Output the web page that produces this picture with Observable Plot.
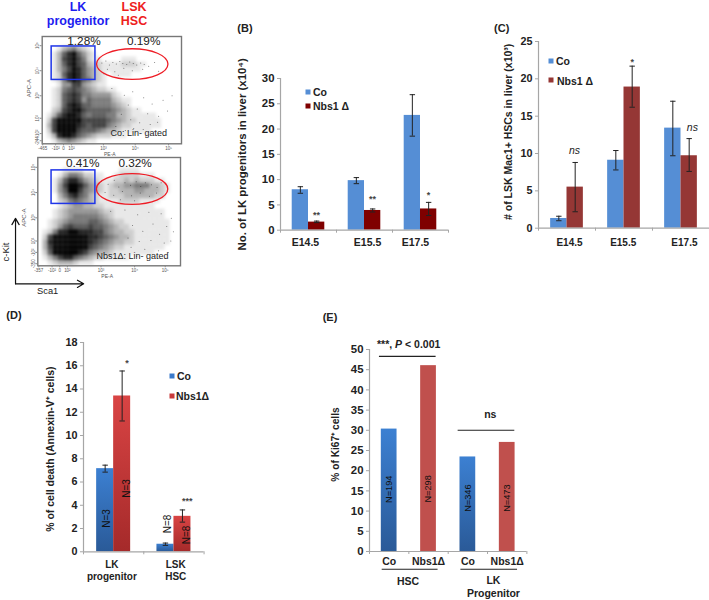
<!DOCTYPE html>
<html><head><meta charset="utf-8">
<script src="https://cdn.jsdelivr.net/npm/d3@7"></script>
<script src="https://cdn.jsdelivr.net/npm/@observablehq/plot@0.6"></script>
<style>
html,body{margin:0;padding:0;background:#fff}
#root{position:relative;width:709px;height:600px;overflow:hidden;font-family:"Liberation Sans",Arial,sans-serif;color:#222}
#root svg{position:absolute;overflow:visible;background:transparent;font-family:"Liberation Sans",Arial,sans-serif}
.t{position:absolute;transform:translate(-50%,-50%);white-space:nowrap;font-weight:bold;line-height:1}
.s{position:absolute;width:5px;height:5px;transform:translate(-50%,-50%)}
</style></head><body><div id="root"></div>
<script>
// ---- Panel A: density of events (0 = empty, 9 = solid black)
const coDensity = [
"0000000000000000000000000000",
"0000000000000000000000000000",
"0001345321000000000000000000",
"0013689642100000000000000000",
"0013789752110000111000000000",
"0013689763221111222110000000",
"0013579864321111111100000000",
"0012689864321011110000000000",
"0012589865321000000000000000",
"0001447743211000000000000000",
"0012567654322110000000000000",
"0012678755444421000000000000",
"0012678746555532110000000000",
"0012689866555543210000000000",
"0023789976666654321100000000",
"0136899865666553321111100000",
"0279999977777654322111110000",
"0379999876777543221111110000",
"0279999766654332111111000000",
"0138998654322211100000000000",
"0013454321100000000000000000"];
const nbsDensity = [
"0000000000000000000000000000",
"0000000000000000000000000000",
"0000011110000000111100000000",
"0000135542211001222211100000",
"0001368864321112232322211000",
"0001479986432123344555332100",
"0001469975432122333443332100",
"0000357865321122233333322000",
"0000235654321111222211110000",
"0000123443322111111111100000",
"0001234444443221111111111000",
"0001234555554321111111111000",
"0012345555665432211111111100",
"0012467666766543221111111100",
"0125889988877543322111111100",
"0279999999887654332111111100",
"0389999999876543322111111100",
"0379999999765432211111111000",
"0269999987543321111111100000",
"0135788654322111110000000000",
"0012333211100000000000000000"];
// individually visible stray events in the sparse regions of each dot plot
const coStray = [[12,5.2],[12.8,4.8],[13.5,5.6],[14.2,5.1],[14.9,5.4],[15.6,4.9],[16.2,5.3],[17,5.5],[17.6,5],[18.3,5.3],[19,5.6],[19.8,5.2],[20.5,5.5],[21.4,5.8],[22.6,5.1],[13.1,6.4],[14.6,6.9],[16.4,6.2],[18.1,6.7],[20.2,6.4],[12.4,7.3],[15.3,7.6],[23.4,6.8],[14,10.2],[16.5,11.5],[18.2,10.8],[20.4,12],[22.1,13.2],[24.3,12.5],[26.1,11.6],[17.3,13.4],[19.1,14.2],[21.2,15.1],[23.4,15.6],[25.2,14.6],[15.9,15.2],[17.8,16.3],[19.6,16.9],[21.7,17.2],[23.2,16.8],[18.4,18],[20.3,18.2],[22.6,18.6],[16.7,18.4],[14.8,17.6]];
const nbsStray = [[12.5,4.6],[13.8,5.2],[15,4.4],[15.9,5.7],[17.1,4.9],[18.2,5.4],[19.3,4.7],[20.2,5.6],[21.1,4.9],[22.3,5.3],[23.4,5.8],[24.2,4.9],[13.2,6.8],[14.9,7.3],[16.6,6.6],[18.4,7.4],[20.1,6.9],[21.9,7.5],[23.3,6.9],[16.2,8.2],[19,8.4],[14.3,10.4],[17.1,10.2],[19.6,11.1],[21.8,10.6],[24.2,10.9],[26.2,11.8],[25.3,13.4],[22.6,12.9],[18.6,13.2],[20.6,14.3],[23.9,14.9],[26.6,14.4],[17.7,15.6],[19.9,16.3],[22.2,16.1],[24.8,16.6],[26.1,16.2],[18.3,17.4],[21,17.8],[23.7,18.1],[25.6,18.4],[16.4,18.9],[19.4,19.2],[13.6,19.4]];
const coXTicks = [0.1,2.7,4.3,5.9,12.3,18.7,25.4];
const coXLabels = ["-465","-10²","0","10²","10³","10⁴","10⁵"];
const coYTicks = [1.8,6.7,11.6,16,19,20.4];
const coYLabels = ["10⁵","10⁴","10³","10²","-10²","-244"];
const nbsXTicks = [0.2,2.8,4.3,5.8,12.4,19,25];
const nbsXLabels = ["-357","-10²","0","10²","10³","10⁴","10⁵"];
const nbsYTicks = [1.9,6.8,11.7,16.2,18.4,20.6];
const nbsYLabels = ["10⁵","10⁴","10³","10²","-10²","-350"];

// ---- Panel B
const stages = ["E14.5","E15.5","E17.5"];
const bCo = [8.0,9.8,22.7], bCoLow = [7.3,9.2,18.6], bCoHigh = [8.6,10.4,26.8];
const bNbs = [1.6,3.9,4.2], bNbsLow = [1.5,3.6,2.9], bNbsHigh = [1.8,4.2,5.5];
const bStars = ["**","**","*"], bStarY = [2.9,6.1,7.0];
// ---- Panel C
const cCo = [1.3,9.1,13.4], cCoLow = [1.0,7.8,9.7], cCoHigh = [1.6,10.4,17.0];
const cNbs = [5.5,18.9,9.7], cNbsLow = [2.2,16.2,7.6], cNbsHigh = [8.8,21.7,12.0];
// ---- Panel D
const cellTypes = ["LK\nprogenitor","LSK\nHSC"];
const dCo = [7.15,0.65], dCoLow = [6.85,0.55], dCoHigh = [7.45,0.75];
const dNbs = [13.4,3.05], dNbsLow = [11.25,2.55], dNbsHigh = [15.55,3.6];
// ---- Panel E
const eGroups = ["Co","Nbs1Δ","Co","Nbs1Δ"];
const eValues = [30.3,46,23.4,27];
const eN = ["N=194","N=298","N=346","N=473"];
const eNY = [15.4,15.5,13.2,13.2];

const root = document.getElementById("root");
const FONT = "Liberation Sans";
const INK = "#222", AXIS = "#a6a6a6";

function add(plot, left, top){ plot.style.left = left+"px"; plot.style.top = top+"px"; root.appendChild(plot); return plot; }
function label(text,x,y,size,css=""){
  const d=document.createElement("div"); d.className="t"; d.textContent=text;
  d.style.cssText=`left:${x}px;top:${y}px;font-size:${size}px;${css}`; root.appendChild(d);
}
function swatch(x,y,color){
  const d=document.createElement("div"); d.className="s"; d.style.cssText=`left:${x}px;top:${y}px;background:${color}`; root.appendChild(d);
}
const cap = {draw(c,size){ const r=Math.sqrt(size/Math.PI); c.moveTo(-r,0); c.lineTo(r,0); }};
const gate = ratio => ({draw(c,size){
  const a=Math.sqrt(size/Math.PI), b=a*ratio, k=0.5523;
  c.moveTo(-a,0);
  c.bezierCurveTo(-a,-k*b,-k*a,-b,0,-b); c.bezierCurveTo(k*a,-b,a,-k*b,a,0);
  c.bezierCurveTo(a,k*b,k*a,b,0,b); c.bezierCurveTo(-k*a,b,-a,k*b,-a,0); c.closePath();
}});

function dotPlot({rows,stray,xt,xl,yt,yl,frameW,frameH,left,top,rect,ell,ellR,pcts,note,noteXY,apcDy=0,extra=[]}){
  const ml=left, mt=14, mr=30, mb=50;
  const cells = rows.flatMap((s,r)=>[...s].map((d,c)=>({c,r,d:+d})).filter(e=>e.d>0));
  add(Plot.plot({
    width:ml+frameW+mr, height:mt+frameH+mb, marginLeft:ml, marginTop:mt, marginRight:mr, marginBottom:mb,
    style:{fontFamily:FONT,background:"transparent"},
    x:{domain:[0,28]}, y:{domain:[21,0]},
    marks:[
      Plot.rect(cells,{x1:"c",x2:d=>d.c+1,y1:"r",y2:d=>d.r+1,fill:"#000",fillOpacity:d=>Math.pow(d.d/9,1.1),imageFilter:"blur(1.5px)"}),
      Plot.dot(stray,{x:d=>d[0],y:d=>d[1],r:.5,fill:"#111",fillOpacity:.6}),
      Plot.frame({stroke:"#777",strokeWidth:1.4}),
      Plot.axisX({ticks:xt,tickFormat:(d,i)=>xl[i],tickSize:2,tickPadding:1,fontSize:4.5,stroke:"#888",fill:"#555",label:null}),
      Plot.axisY({ticks:yt,tickFormat:(d,i)=>yl[i],tickSize:2,tickPadding:1,fontSize:4.5,tickRotate:-90,stroke:"#888",fill:"#555",label:null}),
      Plot.text(["PE-A"],{frameAnchor:"bottom",textAnchor:"middle",dx:-2,dy:12.6,fontSize:5,fill:"#555"}),
      Plot.text(["APC-A"],{frameAnchor:"left",textAnchor:"middle",dx:-13.5,dy:apcDy,rotate:-90,fontSize:6,fill:"#555"}),
      Plot.rect([rect],{x1:"x1",x2:"x2",y1:"y1",y2:"y2",fill:"none",stroke:"#1f35e8",strokeWidth:1.5}),
      Plot.dot([ell],{x:"x",y:"y",r:ellR,symbol:gate(0.43),fill:"none",stroke:"#ee1c25",strokeWidth:1.3}),
      Plot.text(pcts,{x:"x",y:"y",text:"t",fontSize:11.8,fill:"#222"}),
      Plot.text([note],{x:noteXY[0],y:noteXY[1],fontSize:9,fill:"#222"}),
      ...extra
    ]
  }),0,top);
}
dotPlot({rows:coDensity,stray:coStray,xt:coXTicks,xl:coXLabels,yt:coYTicks,yl:coYLabels,frameW:139.3,frameH:107.3,left:41.7,top:21.7,
  rect:{x1:1.9,x2:10.7,y1:1.95,y2:8.5},ell:{x:18.1,y:5.4},ellR:35.7,apcDy:-2,
  pcts:[{x:8.4,y:1,t:"1.28%"},{x:20.4,y:1,t:"0.19%"}],note:"Co: Lin- gated",noteXY:[19.4,19]});
dotPlot({rows:nbsDensity,stray:nbsStray,xt:nbsXTicks,xl:nbsXLabels,yt:nbsYTicks,yl:nbsYLabels,frameW:142.7,frameH:108.3,left:37.3,top:142.7,
  rect:{x1:2.7,x2:11.3,y1:2.5,y2:9.0},ell:{x:18.5,y:6.1},ellR:35.7,apcDy:6,
  pcts:[{x:8.8,y:1.1,t:"0.41%"},{x:19.1,y:1.1,t:"0.32%"}],note:"Nbs1Δ: Lin- gated",noteXY:[18.6,19.2],
  extra:[
    Plot.arrow([{x1:-4.37,y1:24.5,x2:-4.37,y2:11.8},{x1:-4.37,y1:24.5,x2:9,y2:24.5}],
      {x1:"x1",y1:"y1",x2:"x2",y2:"y2",stroke:"#111",strokeWidth:1.2,headLength:9,bend:0})
  ]});
label("c-Kit",6,252,9.5,"font-weight:normal;transform:translate(-50%,-50%) rotate(-90deg)");
label("Sca1",47.7,292,9.3,"font-weight:normal");
label("LK",78,6.5,12.5,"color:#1d1df0");
label("progenitor",78,20.5,12.5,"color:#1d1df0");
label("LSK",134,6.5,12.5,"color:#ee2020");
label("HSC",134,20.5,12.5,"color:#ee2020");

function tableOf(labels,a,aL,aH,b,bL,bH){
  return labels.flatMap((g,i)=>[{g:i,s:0,v:a[i],lo:aL[i],hi:aH[i]},{g:i,s:1,v:b[i],lo:bL[i],hi:bH[i]}]);
}
function barPanel({rows,n,x0,step,yTop,yBase,yMax,yTicks,w,fills,defs=[],capR=2.7,fs,title,titleDx,titleDy=0,titleFs,labels,labelX,labelSize,labelDy,marks=[],lh=12.5}){
  const ml=60, mt=24, mr=14, mb=60;
  const x1=d=>d.g+.5-w+d.s*w, xc=d=>x1(d)+w/2;
  add(Plot.plot({
    width:ml+n*step+mr, height:mt+(yBase-yTop)+mb, marginLeft:ml, marginTop:mt, marginRight:mr, marginBottom:mb,
    style:{fontFamily:FONT,background:"transparent"},
    x:{domain:[0,n]}, y:{domain:[0,yMax]},
    marks:[
      ...defs,
      ...[0,1].map(s=>Plot.rectY(rows.filter(d=>d.s===s),{x1,x2:d=>x1(d)+w,y:"v",fill:fills[s]})),
      Plot.ruleY([0],{stroke:AXIS,strokeWidth:1.2}),
      Plot.ruleX([0],{stroke:AXIS,strokeWidth:1.2}),
      Plot.axisX({ticks:d3.range(n+1),tickFormat:()=>"",tickSize:3,stroke:AXIS,label:null}),
      Plot.axisY({ticks:yTicks,tickSize:3,tickPadding:3,fontSize:fs,fontWeight:"bold",stroke:AXIS,fill:INK,label:null}),
      Plot.ruleX(rows,{x:xc,y1:"lo",y2:"hi",stroke:"#222",strokeWidth:1}),
      Plot.dot(rows,{x:xc,y:"lo",symbol:cap,r:capR,stroke:"#222",strokeWidth:1}),
      Plot.dot(rows,{x:xc,y:"hi",symbol:cap,r:capR,stroke:"#222",strokeWidth:1}),
      Plot.text([title],{frameAnchor:"left",textAnchor:"middle",dx:titleDx,dy:titleDy,rotate:-90,fontSize:titleFs,fontWeight:"bold",fill:INK}),
      Plot.text(labels,{x:(d,i)=>labelX[i],y:0,dy:labelDy,fontSize:labelSize,fontWeight:"bold",fill:INK,lineHeight:lh/labelSize,lineAnchor:"top"}),
      ...marks
    ]
  }),x0-ml,yTop-mt);
}

// B
const bRows=tableOf(stages,bCo,bCoLow,bCoHigh,bNbs,bNbsLow,bNbsHigh);
barPanel({rows:bRows,n:3,x0:280,step:56,yTop:78.3,yBase:230,yMax:30,yTicks:[0,5,10,15,20,25,30],w:.291,fills:["#558ed5","#7f0000"],capR:2.7,fs:11.4,
  title:"No. of LK progenitors in liver (x10⁴)",titleDx:-38,titleDy:0,titleFs:11.4,labels:stages,labelX:[.446,1.554,2.41],labelSize:10.5,labelDy:7,
  marks:[Plot.text(bStars,{x:[.645,1.645,2.645],y:bStarY,text:d=>d,fontSize:9,fontWeight:"bold",fill:"#444"})]});
label("(B)",245,28,11); swatch(308,91.7,"#558ed5"); swatch(308,105.7,"#7f0000");
label("Co",320,91.5,10.5); label("Nbs1 Δ",331,106,10.5);

// C
const cRows=tableOf(stages,cCo,cCoLow,cCoHigh,cNbs,cNbsLow,cNbsHigh);
barPanel({rows:cRows,n:3,x0:538,step:57,yTop:41,yBase:227.7,yMax:25,yTicks:[0,5,10,15,20,25],w:.287,fills:["#558ed5","#953735"],capR:2.7,fs:10.8,
  title:"# of LSK Mac1+ HSCs in liver (x10³)",titleDx:-30,titleDy:-3,titleFs:10.5,labels:stages,labelX:[.544,1.486,2.56],labelSize:10,labelDy:9,
  marks:[
    Plot.text(["ns","ns"],{x:[.63,2.7],y:[10.4,13.4],text:d=>d,fontSize:10.5,fontStyle:"italic",fill:INK}),
    Plot.text(["*"],{x:[1.645],y:[22.2],text:d=>d,fontSize:9,fontWeight:"bold",fill:"#444"})
  ]});
label("(C)",501.7,28,11); swatch(551,61,"#558ed5"); swatch(551,80.3,"#953735");
label("Co",563,61,10.5); label("Nbs1 Δ",575,80.5,10.5);

// D
const grad=(id,a,b)=>`<linearGradient id="${id}" x1="0" y1="0" x2="0" y2="1"><stop offset="0" stop-color="${a}"/><stop offset="1" stop-color="${b}"/></linearGradient>`;
const defsMark=()=>{const g=d3.create("svg:defs");g.html(grad("coG","#3c80d2","#2a5a98")+grad("nbG","#d94444","#a52a2a"));return g.node();};
const dRows=tableOf(cellTypes,dCo,dCoLow,dCoHigh,dNbs,dNbsLow,dNbsHigh);
barPanel({rows:dRows,n:2,x0:83.3,step:60.3,yTop:341.7,yBase:551,yMax:18,yTicks:d3.range(0,19,2),w:.282,fills:["url(#coG)","url(#nbG)"],defs:[defsMark],capR:2.7,fs:10.8,
  title:"% of cell death (Annexin-V⁺ cells)",titleDx:-33,titleDy:2,titleFs:10.5,labels:cellTypes,labelX:[.47,1.53],labelSize:10,labelDy:7,
  marks:[
    Plot.text(["N=3","N=3","N=8","N=8"],{x:[.39,.72,1.39,1.72],y:[2.87,5.45,2.4,1.45],text:d=>d,rotate:-90,fontSize:10,fill:"#111"}),
    Plot.text(["*","***"],{x:[.72,1.72],y:[16.2,4.4],text:d=>d,fontSize:9,fontWeight:"bold",fill:"#444"})
  ]});
label("(D)",14,315,11); swatch(171.7,375.7,"#3a7acb"); swatch(171.7,395.7,"#c83a3a");
label("Co",184,375.5,10.5); label("Nbs1Δ",192.5,396,10.5);

// E
const eRows=eGroups.map((g,i)=>({g:i,s:i%2,v:eValues[i]}));
const ex1=d=>d.g+.3, ex2=d=>d.g+.7;
add(Plot.plot({
  width:60+157.4+14,height:24+202+60,marginLeft:60,marginTop:24,marginRight:14,marginBottom:60,
  style:{fontFamily:FONT,background:"transparent"},
  x:{domain:[0,4]},y:{domain:[0,50]},
  marks:[
    ()=>{const g=d3.create("svg:defs");g.html(grad("coE","#3c80d2","#2a5a98"));return g.node();},
    Plot.rectY(eRows.filter(d=>d.s===0),{x1:ex1,x2:ex2,y:"v",fill:"url(#coE)"}),
    Plot.rectY(eRows.filter(d=>d.s===1),{x1:ex1,x2:ex2,y:"v",fill:"#c0504d"}),
    Plot.ruleY([0],{stroke:AXIS,strokeWidth:1.2}),
    Plot.ruleX([0],{stroke:AXIS,strokeWidth:1.2}),
    Plot.axisX({ticks:[0,1,2,3,4],tickFormat:()=>"",tickSize:3,stroke:AXIS,label:null}),
    Plot.axisY({ticks:d3.range(0,51,5),tickSize:3,tickPadding:3,fontSize:11.4,fontWeight:"bold",stroke:AXIS,fill:INK,label:null}),
    Plot.text(["% of Ki67⁺ cells"],{frameAnchor:"left",textAnchor:"middle",dx:-34,dy:-6,rotate:-90,fontSize:10.2,fontWeight:"bold",fill:INK}),
    Plot.text(eN,{x:(d,i)=>i+.5,y:(d,i)=>eNY[i],text:d=>d,rotate:-90,fontSize:9.2,fill:"#111"}),
    Plot.text(eGroups,{x:(d,i)=>i+.5,y:0,dy:10,fontSize:10.5,fontWeight:"bold",fill:INK}),
    Plot.link([{a:.31,b:1.73,y:-4.4},{a:2.31,b:3.75,y:-4.4}],{x1:"a",x2:"b",y1:"y",y2:"y",stroke:"#222",strokeWidth:1.1}),
    Plot.link([{a:.24,b:1.68,y:48.3},{a:2.24,b:3.68,y:30}],{x1:"a",x2:"b",y1:"y",y2:"y",stroke:"#222",strokeWidth:1.1}),
    Plot.text(["ns"],{x:[3.07],y:[33.8],text:d=>d,fontSize:10.5,fontWeight:"bold",fill:INK}),
    Plot.text(["HSC"],{x:[.98],y:[-7.5],text:d=>d,fontSize:10.5,fontWeight:"bold",fill:INK}),
    Plot.text(["LK\nProgenitor"],{x:[3.15],y:[-7.3],text:d=>d,fontSize:10.5,fontWeight:"bold",fill:INK,lineAnchor:"top",dy:-6,lineHeight:1.2})
  ]
}),369.3-60,349-24);
label("(E)",330,317,11);
const p=document.createElement("div");p.className="t";p.style.cssText="left:408.7px;top:344px;font-size:10.5px";p.innerHTML="***, <i>P</i> &lt; 0.001";root.appendChild(p);
</script></body></html>
